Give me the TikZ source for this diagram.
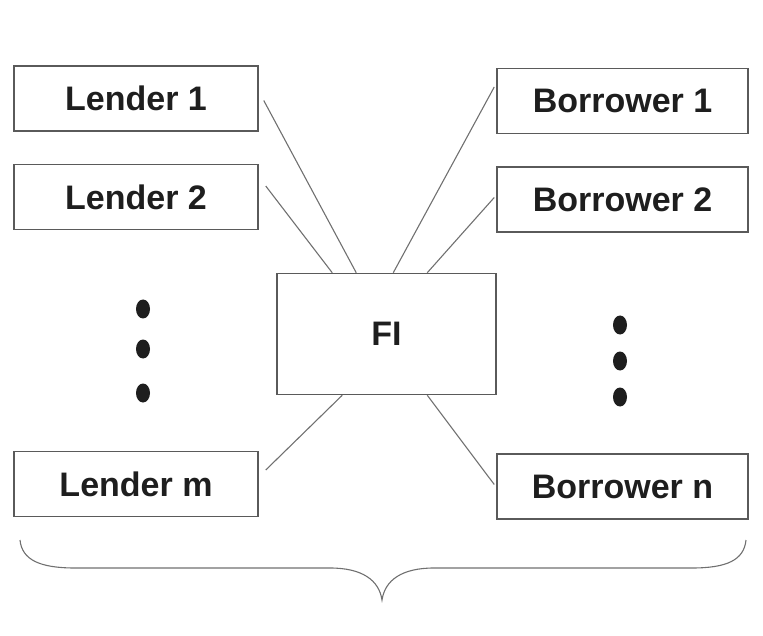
\documentclass[tikz,border=0pt]{standalone}
\usepackage{fontspec}
\setmainfont{Liberation Sans}
\usetikzlibrary{positioning}
\definecolor{boxgray}{HTML}{5A5A5A}
\definecolor{linegray}{HTML}{707070}
\definecolor{inkdark}{HTML}{1E1E1E}

\begin{document}
\begin{tikzpicture}[x=1pt,y=-1pt,
		party/.style={rectangle, draw=boxgray, line width=1.5pt, minimum width=244pt, minimum height=65pt, inner sep=0pt, text=inkdark, font=\fontsize{34}{40}\selectfont\bfseries},
		link/.style={draw=linegray, line width=1.1pt},
		dot/.style={fill=inkdark, x radius=7, y radius=9.5}]
		\useasboundingbox (0,0) rectangle (763,636);
		\node (len1) at (136,98.5) [party] {Lender 1};
		\node (len2) [below=32pt of len1, party] {Lender 2};
		\node (lenm) at (136,484) [party] {Lender m};
		\node (bor1) at (622.5,101) [party, minimum width=251pt] {Borrower 1};
		\node (bor2) [below=32pt of bor1, party, minimum width=251pt] {Borrower 2};
		\node (born) at (622.5,486.5) [party, minimum width=251pt] {Borrower n};
		\node (fi) at (386.5,334) [party, minimum width=219pt, minimum height=121pt] {FI};
		\path [link] ([xshift=5pt,yshift=-2pt]len1.east) -- ([xshift=80pt]fi.north west);
		\path [link] ([xshift=7pt,yshift=11pt]len2.east) -- ([xshift=56pt]fi.north west);
		\path [link] ([xshift=117pt]fi.north west) -- ([xshift=-2pt,yshift=14pt]bor1.west);
		\path [link] ([xshift=151pt]fi.north west) -- ([xshift=-2pt,yshift=2pt]bor2.west);
		\path [link] ([xshift=7pt,yshift=14pt]lenm.east) -- ([xshift=66pt]fi.south west);
		\path [link] ([xshift=151pt]fi.south west) -- ([xshift=-2pt,yshift=2pt]born.west);
		% vertical ellipsis marks
		\foreach \y in {309,349,393} \fill [dot] (143,\y) ellipse [];
		\foreach \y in {325,361,397} \fill [dot] (620,\y) ellipse [];
		% brace under both columns
		\draw [linegray, line width=1.1pt] (20,540) .. controls (22,560) and (40,568) .. (75,568) -- (330,568)
			.. controls (362,568) and (379,580) .. (382,600) .. controls (385,580) and (402,568) .. (434,568)
			-- (692,568) .. controls (727,568) and (744,560) .. (746,540);
	\end{tikzpicture}
\end{document}
